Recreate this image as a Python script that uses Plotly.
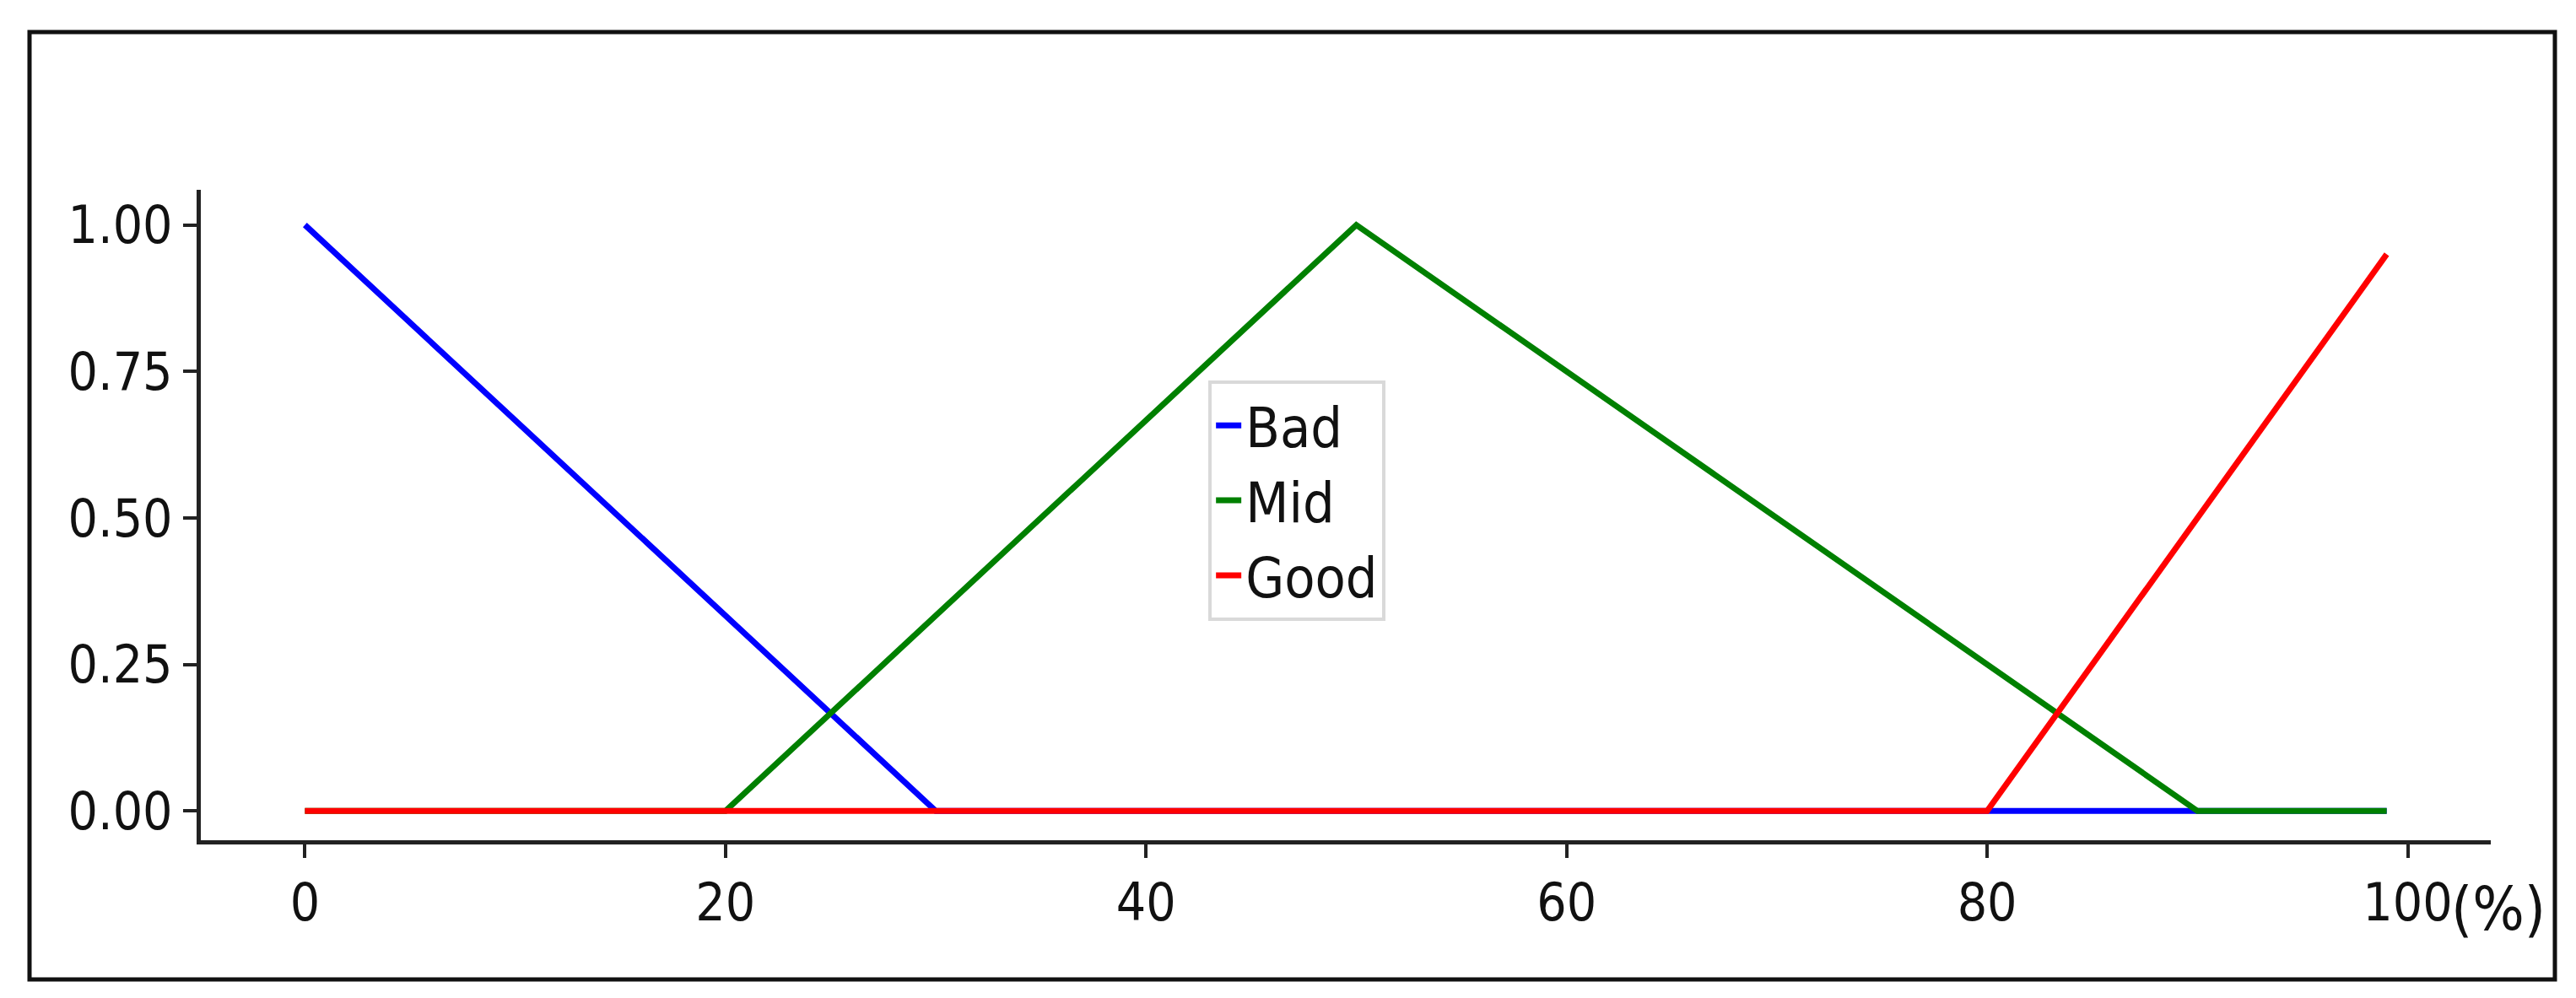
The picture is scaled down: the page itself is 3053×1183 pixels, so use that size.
import plotly.graph_objects as go

# membership functions (x in %, membership degree)
bad_x = [0, 30, 99]
bad_y = [1.0, 0.0, 0.0]
mid_x = [0, 20, 50, 90, 99]
mid_y = [0.0, 0.0, 1.0, 0.0, 0.0]
good_x = [0, 80, 99]
good_y = [0.0, 0.0, 0.95]

x_ticks = [0, 20, 40, 60, 80, 100]
y_ticks = [0.0, 0.25, 0.5, 0.75, 1.0]
y_labels = ["0.00", "0.25", "0.50", "0.75", "1.00"]

FONT = "Liberation Sans Narrow, DejaVu Sans Condensed, Liberation Sans, sans-serif"

fig = go.Figure()
fig.add_trace(go.Scatter(x=bad_x, y=bad_y, mode="lines", name="Bad",
                         line=dict(color="#0000ff", width=7)))
fig.add_trace(go.Scatter(x=mid_x, y=mid_y, mode="lines", name="Mid",
                         line=dict(color="#008000", width=7)))
fig.add_trace(go.Scatter(x=good_x, y=good_y, mode="lines", name="Good",
                         line=dict(color="#ff0000", width=7)))

fig.update_layout(
    width=3053, height=1183,
    margin=dict(l=230, r=109, t=217, b=195),
    paper_bgcolor="white", plot_bgcolor="white",
    font=dict(family=FONT, size=62, color="#111111"),
    legend=dict(x=0.44, y=0.707, xanchor="left", yanchor="top",
                bgcolor="white", bordercolor="#d9d9d9", borderwidth=4,
                font=dict(size=66), tracegroupgap=10),
    xaxis=dict(range=[-4.95, 103.95], tickvals=x_ticks, showgrid=False,
               zeroline=False, showline=True, linecolor="#222222", linewidth=5,
               ticks="outside", ticklen=16, tickwidth=4, tickcolor="#222222"),
    yaxis=dict(range=[-0.05, 1.06], tickvals=y_ticks, ticktext=y_labels,
               showgrid=False, zeroline=False, showline=True,
               linecolor="#222222", linewidth=5,
               ticks="outside", ticklen=16, tickwidth=4, tickcolor="#222222"),
)

fig.add_annotation(text="(%)", xref="paper", yref="paper", x=0.982, y=-0.105,
                   xanchor="left", yanchor="middle", showarrow=False,
                   font=dict(size=72))

# outer frame around the whole figure
fig.add_shape(type="rect", xref="paper", yref="paper",
              x0=-0.0748, x1=1.028, y0=-0.214, y1=1.2425,
              line=dict(color="#111111", width=5))

fig.write_html("out.html")
